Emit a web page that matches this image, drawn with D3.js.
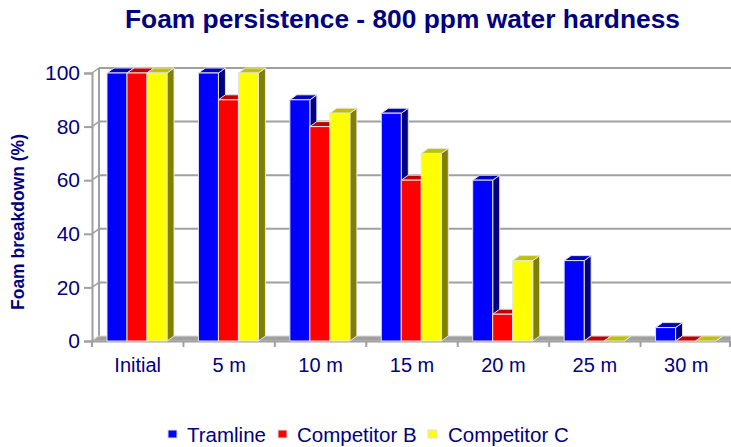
<!DOCTYPE html>
<html><head><meta charset="utf-8">
<script src="https://cdnjs.cloudflare.com/ajax/libs/d3/7.8.5/d3.min.js"></script>
<style>body{margin:0;background:#fff}svg{display:block;font-family:"Liberation Sans",Arial,sans-serif}</style>
</head><body><svg id="c" width="731" height="447"></svg>
<script>
const categories = ["Initial","5 m","10 m","15 m","20 m","25 m","30 m"];
const seriesNames = ["Tramline","Competitor B","Competitor C"];
const tramline = [100,100,90,85,60,30,5];
const competitorB = [100,90,80,60,10,0,0];
const competitorC = [100,100,85,70,30,0,0];
const yTicks = [0,20,40,60,80,100];
const title = "Foam persistence - 800 ppm water hardness";
const yTitle = "Foam breakdown (%)";

const seriesValues = [tramline, competitorB, competitorC];
const front = ["#0000ff","#ff0000","#ffff00"];
const topC = ["#0000c0","#c00000","#c0c000"];
const sideC = ["#000080","#800000","#808000"];
const navy = "#000080";
const DX = 7, DY = -5;
const FF = "Liberation Sans, Arial, sans-serif";

const svg = d3.select("#c");
const x = d3.scaleBand().domain(categories).range([92, 732]);
const xi = d3.scaleBand().domain(seriesNames).range([15, 75]);
const y = d3.scaleLinear().domain([0,100]).range([341, 73]);

// title
svg.append("text").attr("x",402.5).attr("y",28).attr("text-anchor","middle")
  .attr("font-size",25).attr("font-weight","bold").attr("fill",navy)
  .attr("textLength",555).attr("lengthAdjust","spacingAndGlyphs").text(title);
// y title
svg.append("text").attr("transform","translate(24,222) rotate(-90)").attr("text-anchor","middle")
  .attr("font-size",17.5).attr("font-weight","bold").attr("fill",navy).text(yTitle);

const grid = "#a0a0a0";
// back wall vertical
svg.append("line").attr("x1",92+DX).attr("x2",92+DX).attr("y1",y(0)+DY).attr("y2",y(100)+DY)
  .attr("stroke",grid).attr("stroke-width",2);
// gridlines
yTicks.forEach(v=>{
  if(v>0) svg.append("line").attr("x1",92+DX).attr("x2",731).attr("y1",y(v)+DY).attr("y2",y(v)+DY)
    .attr("stroke",grid).attr("stroke-width",2);
  svg.append("line").attr("x1",92).attr("x2",92+DX).attr("y1",y(v)).attr("y2",y(v)+DY)
    .attr("stroke",grid).attr("stroke-width",1.5);
});
// floor
svg.append("polygon").attr("points",[[92,y(0)],[92+DX,y(0)+DY],[731,y(0)+DY],[731,y(0)]].join(" "))
  .attr("fill","#a0a0a0").attr("stroke","#d8d8d8").attr("stroke-width",1);

// y axis
const ya = d3.axisLeft(y).tickValues(yTicks).tickSize(8).tickPadding(4);
const gy = svg.append("g").attr("transform","translate(92,0)").call(ya);
gy.select(".domain").attr("stroke",grid).attr("stroke-width",2);
gy.selectAll(".tick line").attr("stroke",grid).attr("stroke-width",2);
gy.selectAll(".tick text").attr("fill",navy).attr("font-size",21).attr("font-family",FF);

// x axis
const xa = d3.axisBottom(x).tickSize(0).tickPadding(17);
const gx = svg.append("g").attr("transform",`translate(0,${y(0)})`).call(xa);
gx.select(".domain").attr("stroke",grid).attr("stroke-width",2);
gx.selectAll(".tick text").attr("fill",navy).attr("font-size",20).attr("font-family",FF);
const bounds = categories.map(c=>x(c)).concat([x(categories[categories.length-1])+x.bandwidth()]);
svg.selectAll(".xt").data(bounds).join("line").attr("x1",d=>Math.min(d,730)).attr("x2",d=>Math.min(d,730))
  .attr("y1",y(0)).attr("y2",y(0)+6).attr("stroke",grid).attr("stroke-width",2);

// bars
const bars = svg.append("g");
categories.forEach((c,ci)=>{
  seriesNames.forEach((s,si)=>{
    const v = seriesValues[si][ci];
    const x0 = x(c)+xi(s), x1 = x0+xi.bandwidth();
    const yt = y(v), yb = y(0);
    const g = bars.append("g").attr("stroke","#e4e4e4").attr("stroke-width",1).attr("stroke-linejoin","round");
    g.append("polygon").attr("points",[[x1,yt],[x1+DX,yt+DY],[x1+DX,yb+DY],[x1,yb]].join(" ")).attr("fill",sideC[si]);
    g.append("polygon").attr("points",[[x0,yt],[x0+DX,yt+DY],[x1+DX,yt+DY],[x1,yt]].join(" ")).attr("fill",topC[si]);
    if(v>0) g.append("rect").attr("x",x0).attr("y",yt).attr("width",x1-x0).attr("height",yb-yt).attr("fill",front[si]);
  });
});

// legend
const leg = [[168,187],[278,297],[428,448]];
seriesNames.forEach((s,i)=>{
  svg.append("rect").attr("x",leg[i][0]).attr("y",430).attr("width",9).attr("height",8)
    .attr("fill",front[i]).attr("stroke","#e0e0e0").attr("stroke-width",1);
  svg.append("text").attr("x",leg[i][1]).attr("y",442).attr("font-size",20.5).attr("fill",navy).text(s);
});
</script></body></html>
